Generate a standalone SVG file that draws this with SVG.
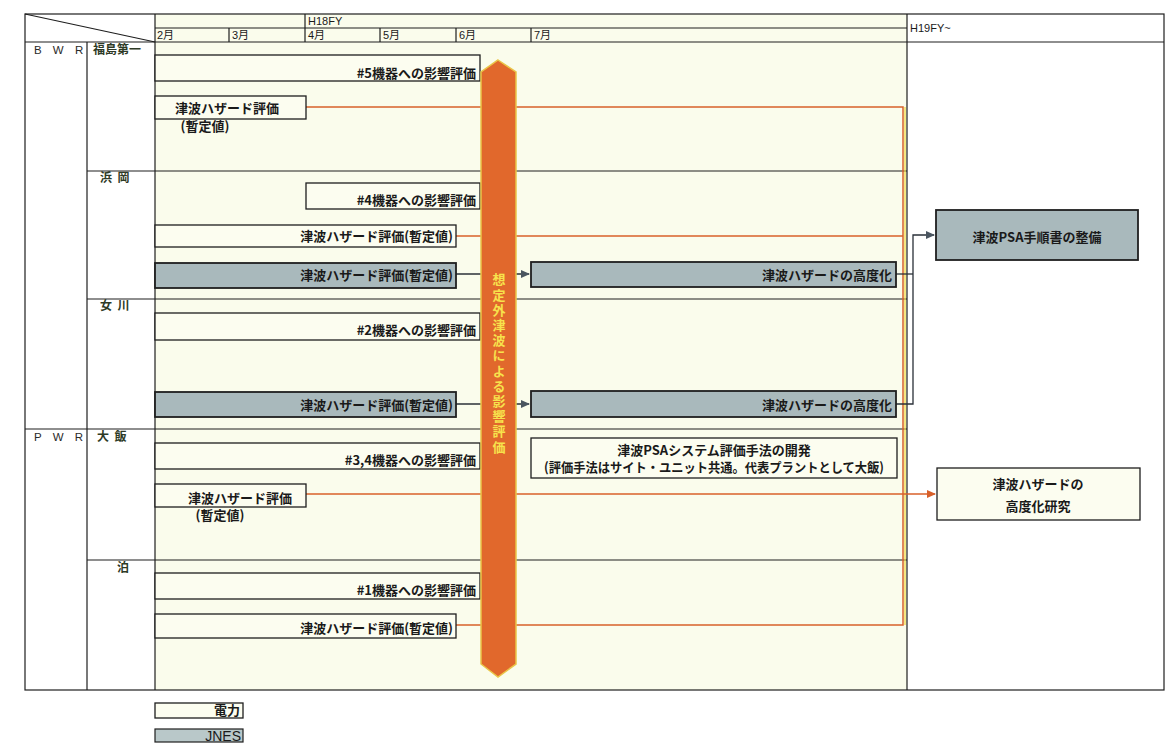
<svg xmlns="http://www.w3.org/2000/svg" width="1171" height="743" viewBox="0 0 1171 743">
<style>
.ln{stroke:#1e1e1e;stroke-width:1.2;fill:none}
.bx{fill:#fcfdf0;stroke:#1e1e1e;stroke-width:1.3}
.jn{fill:#a9b9bc;stroke:#1e1e1e;stroke-width:1.8}
.t{font-family:"Noto Sans CJK JP","Liberation Sans",sans-serif;font-size:13px;font-weight:bold;fill:#1a1a1a}
.h{font-family:"Liberation Sans","Noto Sans CJK JP",sans-serif;font-size:11px;fill:#1a1a1a}
.s{font-family:"Noto Sans CJK JP","Liberation Sans",sans-serif;font-size:12px;font-weight:bold;fill:#2e3a26}
.g{font-family:"Liberation Sans",sans-serif;font-size:11.5px;fill:#2a2a2a;letter-spacing:4px}
.or{stroke:#d8602a;stroke-width:1.5;fill:none}
.ar{stroke:#2a3038;stroke-width:1.3;fill:none}
</style>
<defs>
<marker id="ah" markerWidth="9" markerHeight="8" refX="8" refY="4" orient="auto" markerUnits="userSpaceOnUse"><path d="M0,0 L9,4 L0,8 Z" fill="#4a5560"/></marker>
<marker id="ao" markerWidth="9" markerHeight="8" refX="8" refY="4" orient="auto" markerUnits="userSpaceOnUse"><path d="M0,0 L9,4 L0,8 Z" fill="#d8602a"/></marker>
</defs>
<rect width="1171" height="743" fill="#ffffff"/>
<g id="table">
<rect x="155" y="14" width="752" height="676" fill="#fafcec"/>
<rect x="25" y="14" width="1139" height="676" class="ln"/>
<line x1="25" y1="14" x2="155" y2="42" class="ln"/>
<line x1="25" y1="42" x2="1164" y2="42" class="ln"/>
<line x1="155" y1="28" x2="907" y2="28" class="ln"/>
<line x1="305" y1="14" x2="305" y2="28" class="ln"/>
<line x1="87" y1="42" x2="87" y2="690" class="ln"/>
<line x1="155" y1="14" x2="155" y2="690" class="ln"/>
<line x1="907" y1="14" x2="907" y2="690" class="ln"/>
<line x1="229" y1="28" x2="229" y2="42" class="ln"/>
<line x1="305" y1="28" x2="305" y2="42" class="ln"/>
<line x1="380" y1="28" x2="380" y2="42" class="ln"/>
<line x1="456" y1="28" x2="456" y2="42" class="ln"/>
<line x1="531" y1="28" x2="531" y2="42" class="ln"/>
<line x1="87" y1="171" x2="907" y2="171" class="ln"/>
<line x1="87" y1="299" x2="907" y2="299" class="ln"/>
<line x1="25" y1="429" x2="907" y2="429" class="ln"/>
<line x1="87" y1="560" x2="907" y2="560" class="ln"/>
<text x="308" y="25" class="h">H18FY</text>
<text x="157" y="39" class="h">2月</text>
<text x="232" y="39" class="h">3月</text>
<text x="308" y="39" class="h">4月</text>
<text x="383" y="39" class="h">5月</text>
<text x="459" y="39" class="h">6月</text>
<text x="534" y="39" class="h">7月</text>
<text x="910" y="32" class="h">H19FY~</text>
<text x="34" y="54" class="g">B W R</text>
<text x="34" y="441" class="g">P W R</text>
</g>
<g id="site-fukushima"><text x="93" y="54" class="s">福島第一</text></g>
<g id="site-hamaoka"><text x="100" y="182" class="s" xml:space="preserve">浜  岡</text></g>
<g id="site-onagawa"><text x="100" y="310" class="s" xml:space="preserve">女  川</text></g>
<g id="site-ohi"><text x="97" y="441" class="s" xml:space="preserve">大  飯</text></g>
<g id="site-tomari"><text x="117" y="572" class="s">泊</text></g>
<g id="connectors">
<path d="M306,107 H903 V625 H456" class="or"/>
<line x1="905" y1="107" x2="905" y2="625" stroke="#f0d83a" stroke-width="1.2"/>
<line x1="456" y1="236" x2="903" y2="236" class="or"/>
<line x1="306" y1="494" x2="935" y2="494" class="or" marker-end="url(#ao)"/>
<line x1="456" y1="274" x2="529" y2="274" class="ar" marker-end="url(#ah)"/>
<line x1="456" y1="404" x2="529" y2="404" class="ar" marker-end="url(#ah)"/>
<path d="M896,274 H913" class="ar"/>
<path d="M896,404 H913 V235 H934" class="ar" marker-end="url(#ah)"/>
</g>
<g id="f-5"><rect x="155" y="55" width="325" height="26" class="bx"/><text x="476" y="78" class="t" text-anchor="end">#5機器への影響評価</text></g>
<g id="f-haz"><rect x="155" y="96" width="151" height="23" class="bx"/><text x="227" y="113" class="t" text-anchor="middle">津波ハザード評価</text><text x="205" y="131" class="t" text-anchor="middle">(暫定値)</text></g>
<g id="h-4"><rect x="306" y="183" width="174" height="26" class="bx"/><text x="476" y="205" class="t" text-anchor="end">#4機器への影響評価</text></g>
<g id="h-haz"><rect x="155" y="225" width="301" height="22" class="bx"/><text x="453" y="241" class="t" text-anchor="end">津波ハザード評価(暫定値)</text></g>
<g id="h-jnes"><rect x="155" y="263" width="301" height="25" class="jn"/><text x="453" y="280" class="t" text-anchor="end">津波ハザード評価(暫定値)</text></g>
<g id="h-adv"><rect x="531" y="262" width="365" height="25" class="jn"/><text x="892" y="280" class="t" text-anchor="end">津波ハザードの高度化</text></g>
<g id="o-2"><rect x="155" y="313" width="325" height="27" class="bx"/><text x="476" y="335" class="t" text-anchor="end">#2機器への影響評価</text></g>
<g id="o-jnes"><rect x="155" y="392" width="301" height="25" class="jn"/><text x="453" y="410" class="t" text-anchor="end">津波ハザード評価(暫定値)</text></g>
<g id="o-adv"><rect x="531" y="391" width="365" height="26" class="jn"/><text x="892" y="410" class="t" text-anchor="end">津波ハザードの高度化</text></g>
<g id="ohi-34"><rect x="155" y="443" width="325" height="26" class="bx"/><text x="476" y="465" class="t" text-anchor="end">#3,4機器への影響評価</text></g>
<g id="ohi-psa"><rect x="531" y="438" width="366" height="40" class="bx" stroke-width="1.8"/><text x="714" y="455" class="t" font-size="12.5" text-anchor="middle">津波PSAシステム評価手法の開発</text><text x="714" y="472" class="t" font-size="11.5" text-anchor="middle" textLength="340" lengthAdjust="spacingAndGlyphs">(評価手法はサイト・ユニット共通。代表プラントとして大飯)</text></g>
<g id="ohi-haz"><rect x="155" y="484" width="151" height="23" class="bx"/><text x="240" y="503" class="t" text-anchor="middle">津波ハザード評価</text><text x="220" y="520" class="t" text-anchor="middle">(暫定値)</text></g>
<g id="t-1"><rect x="155" y="573" width="325" height="26" class="bx"/><text x="476" y="595" class="t" text-anchor="end">#1機器への影響評価</text></g>
<g id="t-haz"><rect x="155" y="614" width="301" height="24" class="bx"/><text x="453" y="633" class="t" text-anchor="end">津波ハザード評価(暫定値)</text></g>
<g id="bar">
<path d="M498,60 L516,72 V664 L498,677 L481,664 V72 Z" fill="#e1682c" stroke="#e9c548" stroke-width="1.5"/>
<text x="499" y="273" writing-mode="tb" font-family="Noto Sans CJK JP,sans-serif" font-size="13" font-weight="bold" fill="#f7e24c" letter-spacing="2.2">想定外津波による影響評価</text>
</g>
<g id="psa-manual"><rect x="936" y="210" width="202" height="50" class="jn" stroke-width="1.3"/><text x="1037" y="242" class="t" font-size="16" text-anchor="middle">津波PSA手順書の整備</text></g>
<g id="hazard-research"><rect x="937" y="468" width="203" height="52" class="bx"/><text x="1038" y="489" class="t" font-size="16" font-weight="normal" text-anchor="middle">津波ハザードの</text><text x="1038" y="511" class="t" font-size="16" font-weight="normal" text-anchor="middle">高度化研究</text></g>
<g id="legend">
<rect x="155" y="703" width="88" height="15" class="bx" fill="#ffffff"/>
<text x="240" y="715" class="t" font-size="12" text-anchor="end">電力</text>
<rect x="155" y="729" width="88" height="13" fill="#b9c8c9" stroke="#1e1e1e" stroke-width="1.2"/>
<text x="241" y="741" font-family="Liberation Sans,sans-serif" font-size="14" fill="#1a1a1a" text-anchor="end">JNES</text>
</g>
</svg>
